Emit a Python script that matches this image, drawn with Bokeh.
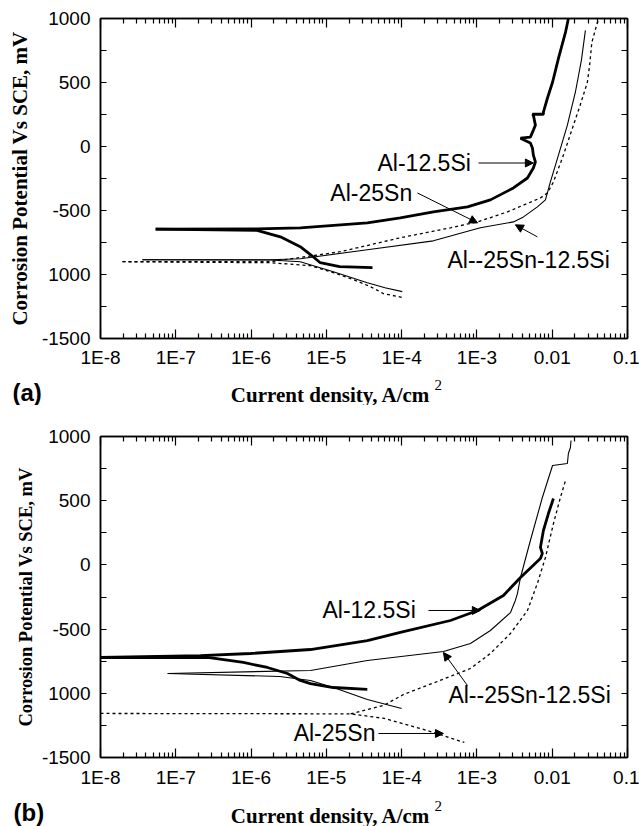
from bokeh.plotting import figure
from bokeh.layouts import column
from bokeh.models import Range1d, FixedTicker, LogAxis, LinearAxis, Label, Arrow, NormalHead
from bokeh.embed import file_html
from bokeh.resources import INLINE

# ---------------- tick definitions ----------------
x_ticks = [1e-8, 1e-7, 1e-6, 1e-5, 1e-4, 1e-3, 1e-2, 1e-1]
x_tick_labels = ["1E-8", "1E-7", "1E-6", "1E-5", "1E-4", "1E-3", "0.01", "0.1"]
y_ticks = [-1500, -1000, -500, 0, 500, 1000]
y_tick_labels = ["-1500", "1000", "-500", "0", "500", "1000"]
y_minor = [-1250, -750, -250, 250, 750]

# ---------------- panel (a) data ----------------
a_si_cath_x = [5.4e-8, 1.2e-6, 2.45e-6, 4.5e-6, 6.2e-6, 8.3e-6, 1.5e-5, 4.1e-5]
a_si_cath_y = [-645, -655, -706, -783, -846, -908, -939, -947]
a_si_anod_x = [5.4e-8, 1.2e-6, 4.5e-6, 3.5e-5, 9.6e-5, 2.64e-4, 7.5e-4, 1.51e-3, 3.05e-3,
               4.69e-3, 5.62e-3, 5.98e-3, 5.62e-3, 5.46e-3, 5.13e-3, 3.79e-3, 5.13e-3,
               5.62e-3, 5.98e-3, 5.62e-3, 5.46e-3, 7.64e-3, 7.64e-3, 8.63e-3, 0.0101,
               0.0121, 0.0150, 0.0164]
a_si_anod_y = [-645, -643, -635, -597, -558, -511, -472, -417, -324, -246, -168, -121,
               -67, -12, 27, 65, 73, 128, 167, 245, 252, 252, 268, 377, 502, 688, 891, 1000]

a_sn_cath_x = [1.96e-8, 1.81e-6, 6.15e-6, 1.24e-5, 2.29e-5, 3.85e-5, 5.73e-5, 1.06e-4]
a_sn_cath_y = [-900, -908, -931, -986, -1040, -1095, -1149, -1181]
a_sn_anod_x = [1.96e-8, 1.81e-6, 1.54e-5, 9.6e-5, 4.45e-4, 1.02e-3, 2.54e-3, 6.97e-3,
               8.63e-3, 0.01038, 0.0141, 0.01855, 0.0235, 0.0293, 0.0314, 0.0336, 0.0398, 0.0437]
a_sn_anod_y = [-900, -900, -822, -713, -635, -589, -511, -402, -363, -277, -67, 143,
               322, 502, 634, 813, 969, 1000]

a_sisn_cath_x = [3.6e-8, 1.81e-6, 4.5e-6, 1.24e-5, 3.5e-5, 6.0e-5, 1.02e-4]
a_sisn_cath_y = [-885, -887, -900, -978, -1064, -1103, -1134]
a_sisn_anod_x = [3.6e-8, 1.81e-6, 4.5e-6, 3.5e-5, 2.64e-4, 1.11e-3, 3.05e-3, 4.15e-3,
                 6.35e-3, 8.13e-3, 9.46e-3, 0.0121, 0.0159, 0.0203, 0.0244, 0.0276]
a_sisn_anod_y = [-885, -885, -877, -807, -737, -635, -589, -550, -472, -417, -277,
                 -67, 167, 424, 673, 907]

# ---------------- panel (b) data ----------------
b_si_cath_x = [1e-8, 2.64e-7, 7.9e-7, 1.65e-6, 3.04e-6, 4.5e-6, 6.15e-6, 1.24e-5, 3.5e-5]
b_si_cath_y = [-721, -721, -760, -799, -846, -900, -924, -955, -970]
b_si_anod_x = [1e-8, 2.13e-7, 9.8e-7, 6.15e-6, 3.5e-5, 9.6e-5, 4.45e-4, 1.02e-3, 2.25e-3,
               3.79e-3, 6.97e-3, 7.4e-3, 6.97e-3, 7.64e-3, 8.9e-3, 0.01038]
b_si_anod_y = [-721, -706, -690, -659, -589, -526, -433, -355, -238, -98, 50, 89, 136,
               268, 400, 517]

b_sn_cath_x = [1e-8, 2.1e-5, 5.9e-5, 2.2e-4, 6.8e-4]
b_sn_cath_y = [-1157, -1160, -1196, -1290, -1383]
b_sn_anod_x = [2.1e-5, 5.73e-5, 1.06e-4, 2.98e-4, 8.2e-4, 1.51e-3, 2.79e-3, 4.69e-3,
               6.35e-3, 8.13e-3, 0.01038, 0.01285, 0.015]
b_sn_anod_y = [-1160, -1095, -1009, -908, -807, -690, -534, -355, -145, 58, 322, 525, 657]

b_sisn_cath_x = [7.8e-8, 2.4e-6, 6.15e-6, 1.24e-5, 3.5e-5, 1.0e-4]
b_sisn_cath_y = [-846, -869, -900, -955, -1048, -1118]
b_sisn_anod_x = [7.8e-8, 6.15e-6, 3.5e-5, 3.59e-4, 8.2e-4, 1.51e-3, 2.79e-3, 3.24e-3,
                 3.45e-3, 3.79e-3, 5.13e-3, 7.4e-3, 0.0101, 0.0159, 0.0164, 0.01745, 0.0178]
b_sisn_anod_y = [-846, -822, -745, -674, -612, -511, -371, -277, -223, -98, 190, 525,
                 774, 790, 868, 914, 969]

SANS = "Liberation Sans"
SERIF = "Liberation Serif"
W = 639


def make_panel(height, mtop, mbottom, xlabel_standoff, ytitle_size, ytitle_standoff):
    p = figure(width=W, height=height, x_axis_type="log", title=None,
               x_range=Range1d(1e-8, 0.1), y_range=Range1d(-1500, 1000),
               output_backend="svg", toolbar_location=None,
               min_border_left=100, min_border_right=12,
               min_border_top=mtop, min_border_bottom=mbottom)
    p.grid.visible = False
    p.outline_line_color = "black"
    p.outline_line_width = 1.5
    p.background_fill_color = "white"
    p.border_fill_color = "white"

    minor_x = [m * 10.0 ** e for e in range(-8, -1) for m in range(2, 10)]
    xt = FixedTicker(ticks=x_ticks, minor_ticks=minor_x)
    yt = FixedTicker(ticks=y_ticks, minor_ticks=y_minor)

    bottom = p.below[0]
    left = p.left[0]
    top = LogAxis(ticker=xt)
    right = LinearAxis(ticker=yt)
    p.add_layout(top, "above")
    p.add_layout(right, "right")

    for ax in [top, right]:
        ax.major_label_text_font_size = "1px"
        ax.major_label_text_color = None
        ax.major_label_text_alpha = 0
        ax.major_label_standoff = 0

    for ax in [bottom, top]:
        ax.ticker = xt
        ax.major_tick_in = 9
        ax.major_tick_out = 0
        ax.minor_tick_in = 5
        ax.minor_tick_out = 0
    for ax in [left, right]:
        ax.ticker = yt
        ax.major_tick_in = 6
        ax.major_tick_out = 0
        ax.minor_tick_in = 6
        ax.minor_tick_out = 0
    for ax in [bottom, top, left, right]:
        ax.axis_line_color = "black"
        ax.axis_line_width = 1.5
        ax.major_tick_line_color = "black"
        ax.minor_tick_line_color = "black"
        ax.major_tick_line_width = 1.2
        ax.minor_tick_line_width = 1.2

    bottom.major_label_overrides = dict(zip(x_ticks, x_tick_labels))
    bottom.major_label_text_font = SANS
    bottom.major_label_text_font_size = "19px"
    bottom.major_label_text_color = "black"
    bottom.major_label_standoff = xlabel_standoff

    left.major_label_overrides = dict(zip(y_ticks, y_tick_labels))
    left.major_label_text_font = SANS
    left.major_label_text_font_size = "19px"
    left.major_label_text_color = "black"
    left.major_label_standoff = 10
    left.axis_label = "Corrosion Potential Vs SCE, mV"
    left.axis_label_text_font = SERIF
    left.axis_label_text_font_style = "bold"
    left.axis_label_text_font_size = ytitle_size
    left.axis_label_text_color = "black"
    left.axis_label_standoff = ytitle_standoff
    return p


def strip(height, tag, tag_x, tag_y, title_right, title_y, sup_y):
    s = figure(width=W, height=height, x_range=Range1d(0, W), y_range=Range1d(0, height),
               title=None, output_backend="svg", toolbar_location=None,
               x_axis_location=None, y_axis_location=None, frame_align=False,
               min_border=0, min_border_left=0, min_border_right=0,
               min_border_top=0, min_border_bottom=0)
    s.grid.visible = False
    s.outline_line_color = None
    s.background_fill_color = "white"
    s.border_fill_color = "white"
    s.add_layout(Label(x=tag_x, y=tag_y, text=tag, text_font=SANS, text_font_style="bold",
                       text_font_size="24px", text_align="left", text_baseline="alphabetic",
                       text_color="black"))
    s.add_layout(Label(x=title_right, y=title_y, text="Current density, A/cm", text_font=SERIF,
                       text_font_style="bold", text_font_size="21px", text_align="right",
                       text_baseline="alphabetic", text_color="black"))
    s.add_layout(Label(x=title_right + 4, y=sup_y, text="2", text_font=SERIF,
                       text_font_size="15px", text_align="left", text_baseline="alphabetic",
                       text_color="black"))
    return s


def curves(p, si, sn, sisn):
    for xs, ys in si:
        p.line(xs, ys, line_color="black", line_width=2.8)
    for xs, ys in sisn:
        p.line(xs, ys, line_color="black", line_width=1.1)
    for xs, ys in sn:
        p.line(xs, ys, line_color="black", line_width=1.3, line_dash="3 3")


def note(p, text, x, y, align="left"):
    p.add_layout(Label(x=x, y=y, text=text, text_font=SANS, text_font_size="23px",
                       text_align=align, text_baseline="middle", text_color="black"))


def arrow(p, x0, y0, x1, y1):
    p.add_layout(Arrow(end=NormalHead(size=8, fill_color="black", line_color="black"),
                       x_start=x0, y_start=y0, x_end=x1, y_end=y1,
                       line_color="black", line_width=1))


# ---------------- panel (a) ----------------
pa = make_panel(370, 18, 31, 8, "21px", 7)
curves(pa,
       [(a_si_cath_x, a_si_cath_y), (a_si_anod_x, a_si_anod_y)],
       [(a_sn_cath_x, a_sn_cath_y), (a_sn_anod_x, a_sn_anod_y)],
       [(a_sisn_cath_x, a_sisn_cath_y), (a_sisn_anod_x, a_sisn_anod_y)])
note(pa, "Al-12.5Si", 4.78e-5, -129)
arrow(pa, 1.05e-3, -129, 5.62e-3, -129)
note(pa, "Al-25Sn", 1.13e-5, -363)
arrow(pa, 1.62e-4, -363, 1.02e-3, -597)
note(pa, "Al--25Sn-12.5Si", 4.06e-4, -885)
arrow(pa, 6.35e-3, -706, 3.24e-3, -612)
sa = strip(35, "(a)", 12, 13, 430, 11, 21)

# ---------------- panel (b) ----------------
pb = make_panel(385, 31, 33, 9, "18.5px", 3)
curves(pb,
       [(b_si_cath_x, b_si_cath_y), (b_si_anod_x, b_si_anod_y)],
       [(b_sn_cath_x, b_sn_cath_y), (b_sn_anod_x, b_sn_anod_y)],
       [(b_sisn_cath_x, b_sisn_cath_y), (b_sisn_anod_x, b_sisn_anod_y)])
note(pb, "Al-12.5Si", 8.87e-6, -355)
arrow(pb, 2.27e-4, -355, 1.11e-3, -355)
note(pb, "Al--25Sn-12.5Si", 4.18e-4, -1017)
arrow(pb, 7.48e-4, -939, 3.59e-4, -682)
note(pb, "Al-25Sn", 4.49e-5, -1313, align="right")
arrow(pb, 4.92e-5, -1313, 3.59e-4, -1313)
sb = strip(36, "(b)", 13, 14, 430, 11, 21)

layout = column(pa, sa, pb, sb, spacing=0)
open("out.html", "w").write(file_html(layout, INLINE))
